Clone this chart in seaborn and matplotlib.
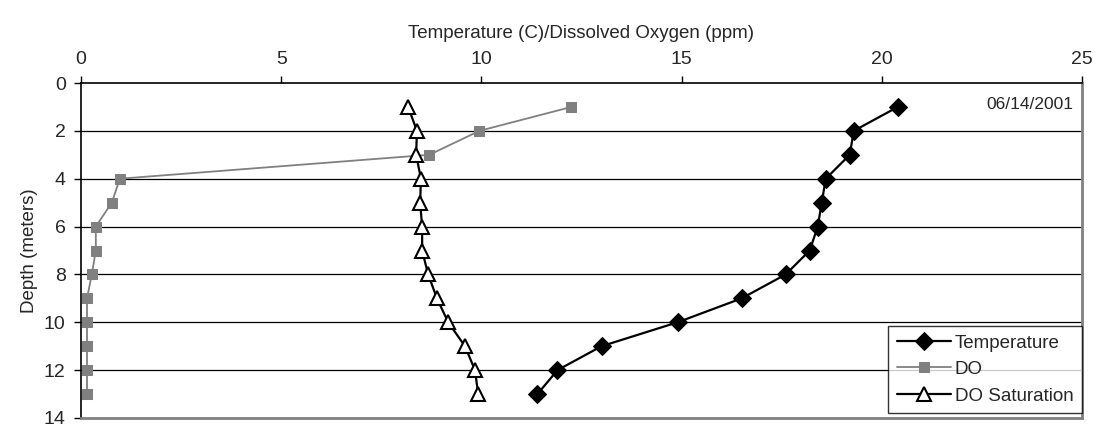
import matplotlib
matplotlib.use("Agg")
import matplotlib.pyplot as plt
import seaborn as sns
import pandas as pd

depth = [1, 2, 3, 4, 5, 6, 7, 8, 9, 10, 11, 12, 13]
temperature = [20.4, 19.3, 19.2, 18.6, 18.5, 18.4, 18.2, 17.6, 16.5, 14.9, 13.0, 11.9, 11.4]
dissolved_oxygen = [12.25, 9.95, 8.7, 0.97, 0.77, 0.37, 0.37, 0.27, 0.15, 0.15, 0.15, 0.15, 0.15]
do_saturation = [8.17, 8.39, 8.37, 8.49, 8.47, 8.52, 8.52, 8.67, 8.89, 9.17, 9.59, 9.84, 9.92]
x_ticks = [0, 5, 10, 15, 20, 25]
y_ticks = [0, 2, 4, 6, 8, 10, 12, 14]
date_label = "06/14/2001"

df = pd.DataFrame({"depth": depth, "temp": temperature, "do": dissolved_oxygen, "sat": do_saturation})

sns.set_theme(style="white")
plt.rcParams["font.family"] = ["Liberation Sans", "DejaVu Sans"]

fig = plt.figure(figsize=(10.99, 4.28), dpi=100)
ax = fig.add_axes([81 / 1099, 1 - 418 / 428, 1001 / 1099, 335 / 428])

for yv in y_ticks[1:-1]:
    ax.axhline(yv, color="black", lw=0.9, zorder=0)

sns.lineplot(data=df, x="temp", y="depth", sort=False, estimator=None, ax=ax,
             color="black", lw=1.6, marker="D", markersize=9, markeredgecolor="black",
             markerfacecolor="black", label="Temperature")
sns.lineplot(data=df, x="do", y="depth", sort=False, estimator=None, ax=ax,
             color="#808080", lw=1.3, marker="s", markersize=7.5, markeredgecolor="#808080",
             markerfacecolor="#808080", label="DO")
sns.lineplot(data=df, x="sat", y="depth", sort=False, estimator=None, ax=ax,
             color="black", lw=1.6, marker="^", markersize=10.5, markeredgecolor="black",
             markerfacecolor="white", markeredgewidth=1.5, label="DO Saturation")

ax.set_xlim(0, 25)
ax.set_ylim(14, 0)
ax.set_xticks(x_ticks)
ax.set_yticks(y_ticks)
ax.xaxis.tick_top()
ax.xaxis.set_label_position("top")
ax.set_xlabel("Temperature (C)/Dissolved Oxygen (ppm)", fontsize=13.5, labelpad=9)
ax.set_ylabel("Depth (meters)", fontsize=13.5, labelpad=4)
ax.tick_params(axis="both", labelsize=14, length=5, width=1, color="black",
               direction="out", pad=6)
ax.tick_params(axis="x", top=True, bottom=False)
ax.tick_params(axis="y", left=True)

for side in ["top", "left"]:
    ax.spines[side].set_color("black")
    ax.spines[side].set_linewidth(1.2)
for side in ["right", "bottom"]:
    ax.spines[side].set_color("#808080")
    ax.spines[side].set_linewidth(2)

ax.text(0.991, 0.937, date_label, transform=ax.transAxes, ha="right", va="center", fontsize=12.5)

leg = ax.legend(loc="lower right", bbox_to_anchor=(1.0, 0.015), borderaxespad=0,
                fontsize=13.5, frameon=True, fancybox=False, edgecolor="black",
                handlelength=2.9, handletextpad=0.2, labelspacing=0.5, borderpad=0.45)
leg.get_frame().set_linewidth(1.0)

fig.savefig("out.png", dpi=100, facecolor="white")
